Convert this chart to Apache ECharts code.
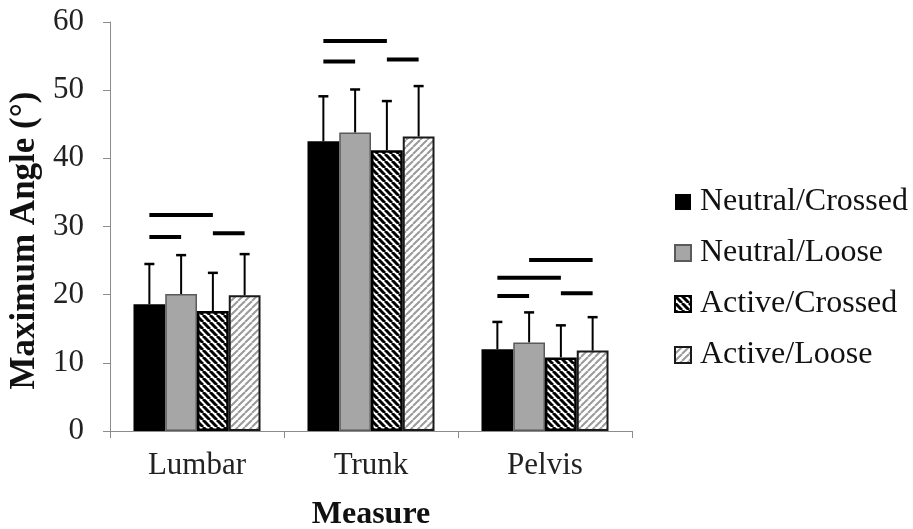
<!DOCTYPE html>
<html>
<head>
<meta charset="utf-8">
<script src="https://cdn.jsdelivr.net/npm/echarts@6/dist/echarts.min.js"></script>
<style>
html,body{margin:0;padding:0;background:#fff;}
#chart{width:913px;height:529px;}
</style>
</head>
<body>
<div id="chart"></div>
<script>
// ---- data ----
var categories = ['Lumbar', 'Trunk', 'Pelvis'];
var seriesNames = ['Neutral/Crossed', 'Neutral/Loose', 'Active/Crossed', 'Active/Loose'];
var neutralCrossed = [18.6, 42.5, 12.0];
var neutralLoose   = [20.1, 43.8, 13.0];
var activeCrossed  = [17.6, 41.2, 10.8];
var activeLoose    = [19.9, 43.2, 11.8];
var neutralCrossedSD = [5.9, 6.6, 4.0];
var neutralLooseSD   = [5.7, 6.3, 4.4];
var activeCrossedSD  = [5.6, 7.2, 4.7];
var activeLooseSD    = [6.05, 7.4, 4.9];
// significance bars: [categoryIndex, fromBar, toBar, height]
var sigBars = [
  [0, 0, 2, 31.7], [0, 0, 1, 28.45], [0, 2, 3, 29.0],
  [1, 0, 2, 57.2], [1, 0, 1, 54.2], [1, 2, 3, 54.5],
  [2, 1, 3, 25.1], [2, 0, 2, 22.5], [2, 0, 1, 19.8], [2, 2, 3, 20.2]
];
var yTicks = {min: 0, max: 60, interval: 10};

// ---- patterns ----
function hatch(dir, color, lw, size) {
  var c = document.createElement('canvas');
  c.width = size; c.height = size;
  var ctx = c.getContext('2d');
  ctx.fillStyle = '#ffffff';
  ctx.fillRect(0, 0, size, size);
  ctx.strokeStyle = color;
  ctx.lineWidth = lw;
  for (var k = -1; k <= 1; k++) {
    ctx.beginPath();
    if (dir === 'back') {
      ctx.moveTo(k * size, 0); ctx.lineTo(k * size + size, size);
    } else {
      ctx.moveTo(k * size, size); ctx.lineTo(k * size + size, 0);
    }
    ctx.stroke();
  }
  return c;
}
var blackHatch = {image: hatch('back', '#000000', 3.0, 7), repeat: 'repeat'};
var grayHatch = {image: hatch('fwd', '#9a9a9a', 2.0, 7), repeat: 'repeat'};

var means = [neutralCrossed, neutralLoose, activeCrossed, activeLoose];
var sds = [neutralCrossedSD, neutralLooseSD, activeCrossedSD, activeLooseSD];
var styles = [
  {color: '#000000', borderColor: '#000000', borderWidth: 0},
  {color: '#a6a6a6', borderColor: '#5a5a5a', borderWidth: 1.5},
  {color: blackHatch, borderColor: '#000000', borderWidth: 2.5},
  {color: grayHatch, borderColor: '#1a1a1a', borderWidth: 2}
];
var CAT_GAP = 0.27;

function barOffset(api, idx) {
  var catW = api.size([1, 0])[0];
  var bw = catW * (1 - CAT_GAP) / 4;
  return {off: (idx - 1.5) * bw, bw: bw};
}

var series = [];
for (var s = 0; s < 4; s++) {
  series.push({
    name: seriesNames[s],
    type: 'bar',
    data: means[s],
    barGap: '0%',
    barCategoryGap: (CAT_GAP * 100) + '%',
    itemStyle: styles[s],
    emphasis: {disabled: true},
    z: 2
  });
}

var errData = [];
for (var s2 = 0; s2 < 4; s2++) {
  for (var c = 0; c < categories.length; c++) {
    errData.push([c, s2, means[s2][c], means[s2][c] + sds[s2][c]]);
  }
}
series.push({
  type: 'custom',
  name: 'err',
  data: errData,
  z: 5,
  silent: true,
  renderItem: function (params, api) {
    var cat = api.value(0), idx = api.value(1);
    var b = barOffset(api, idx);
    var p0 = api.coord([cat, api.value(2)]);
    var p1 = api.coord([cat, api.value(3)]);
    var x = p0[0] + b.off;
    var cap = 5;
    return {
      type: 'group',
      children: [
        {type: 'line', shape: {x1: x, y1: p0[1], x2: x, y2: p1[1]}, style: {stroke: '#000', lineWidth: 2}},
        {type: 'line', shape: {x1: x - cap, y1: p1[1], x2: x + cap, y2: p1[1]}, style: {stroke: '#000', lineWidth: 2.5}}
      ]
    };
  }
});
series.push({
  type: 'custom',
  name: 'sig',
  data: sigBars,
  z: 5,
  silent: true,
  renderItem: function (params, api) {
    var cat = api.value(0);
    var a = barOffset(api, api.value(1));
    var b = barOffset(api, api.value(2));
    var p = api.coord([cat, api.value(3)]);
    return {
      type: 'line',
      shape: {x1: p[0] + a.off, y1: p[1], x2: p[0] + b.off, y2: p[1]},
      style: {stroke: '#000', lineWidth: 4}
    };
  }
});

var font = 'Liberation Serif';
var chart = echarts.init(document.getElementById('chart'), null, {renderer: 'canvas'});
chart.setOption({
  animation: false,
  backgroundColor: '#ffffff',
  grid: {left: 110, right: 281, top: 22, bottom: 98, outerBoundsMode: 'none'},
  legend: {
    data: seriesNames,
    orient: 'vertical',
    left: 669,
    top: 181,
    itemWidth: 16,
    itemHeight: 16,
    itemGap: 19,
    icon: 'rect',
    selectedMode: false,
    textStyle: {fontFamily: font, fontSize: 32, color: '#111', padding: [0, 0, 0, 4]}
  },
  xAxis: {
    type: 'category',
    data: categories,
    name: 'Measure',
    nameLocation: 'middle',
    nameGap: 68,
    nameTextStyle: {fontFamily: font, fontSize: 32, fontWeight: 'bold', color: '#111'},
    axisLine: {lineStyle: {color: '#8c8c8c', width: 1}},
    axisTick: {show: true, length: 7, lineStyle: {color: '#8c8c8c'}},
    axisLabel: {fontFamily: font, fontSize: 31, color: '#222', margin: 19}
  },
  yAxis: {
    type: 'value',
    min: yTicks.min,
    max: yTicks.max,
    interval: yTicks.interval,
    name: 'Maximum Angle (°)',
    nameLocation: 'middle',
    nameGap: 66,
    nameTextStyle: {fontFamily: font, fontSize: 35, fontWeight: 'bold', color: '#111', padding: [0, 28, 0, 0]},
    axisLine: {show: true, lineStyle: {color: '#8c8c8c', width: 1}},
    axisTick: {show: true, length: 7, lineStyle: {color: '#8c8c8c'}},
    axisLabel: {fontFamily: font, fontSize: 31, color: '#222', margin: 26},
    splitLine: {show: false}
  },
  series: series
});
</script>
</body>
</html>
